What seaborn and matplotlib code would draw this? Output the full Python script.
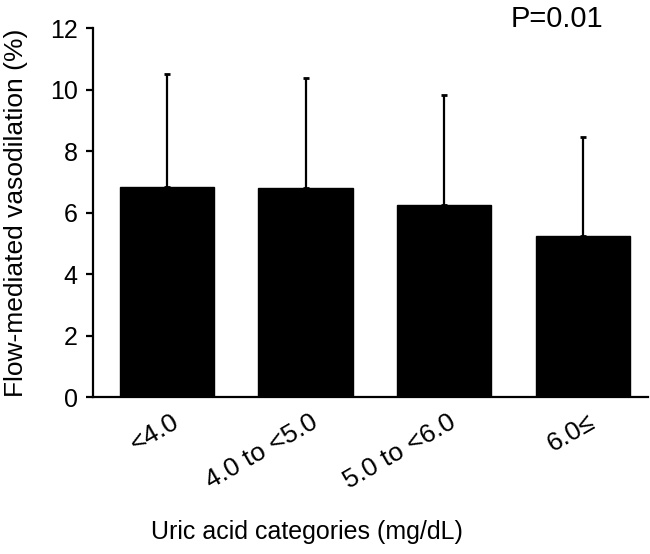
import matplotlib
matplotlib.use("Agg")
import matplotlib.pyplot as plt
import matplotlib.transforms as mtransforms
import pandas as pd
import seaborn as sns

# Valores
categorias = ['<4.0', '4.0 to <5.0', '5.0 to <6.0', '6.0≤']
fmd_media = [6.85, 6.82, 6.25, 5.25]
fmd_de = [3.67, 3.57, 3.57, 3.2]

datos = pd.DataFrame({'categoria': categorias, 'fmd': fmd_media, 'de': fmd_de})

sns.set_theme(style="ticks")
plt.rcParams['font.family'] = ['Liberation Sans', 'DejaVu Sans']
plt.rcParams['text.color'] = 'black'
plt.rcParams['axes.labelcolor'] = 'black'
plt.rcParams['xtick.color'] = 'black'
plt.rcParams['ytick.color'] = 'black'

fig = plt.figure(figsize=(6.5, 5.54), dpi=100)
ax = fig.add_axes([0.143, 0.283, 0.854, 0.666])

sns.barplot(data=datos, x='categoria', y='fmd', color='black',
            width=0.68, edgecolor='black', ax=ax)

# solo la mitad superior de la barra de error
ax.errorbar(range(len(categorias)), datos['fmd'],
            yerr=[[0] * len(categorias), datos['de']],
            fmt='none', ecolor='black', elinewidth=1.6,
            capsize=2.5, capthick=2.0)

ax.set_ylim(0, 12)
ax.set_xlim(-0.534, 3.47)
ax.set_yticks(range(0, 13, 2))
sns.despine(ax=ax)
for s in ['left', 'bottom']:
    ax.spines[s].set_linewidth(1.6)
    ax.spines[s].set_color('black')
ax.tick_params(axis='y', length=5, width=1.6, labelsize=18, pad=6)
ax.tick_params(axis='x', length=0, labelsize=19, pad=9)

offset = mtransforms.ScaledTranslation(4 / 100, 0, fig.dpi_scale_trans)
for lab in ax.get_xticklabels():
    lab.set_rotation(30)
    lab.set_ha('right')
    lab.set_rotation_mode('anchor')
    lab.set_transform(lab.get_transform() + offset)

ax.set_xlabel('Uric acid categories (mg/dL)', fontsize=18)
ax.xaxis.set_label_coords(0.386, -0.333)
ax.set_ylabel('Flow-mediated vasodilation (%)', fontsize=19)
ax.yaxis.set_label_coords(-0.117, 0.5)

fig.text(0.786, 0.952, 'P=0.01', fontsize=21)

plt.savefig('out.png', dpi=100)
